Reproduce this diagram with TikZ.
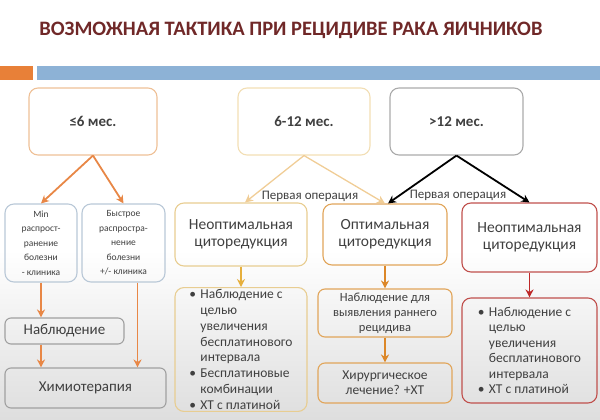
\documentclass[tikz,border=0pt]{standalone}
\usepackage{fontspec}
\setmainfont{Carlito}
\usetikzlibrary{arrows.meta}
\definecolor{txtgray}{RGB}{64,64,64}
\definecolor{titlered}{RGB}{112,40,40}
\definecolor{barorange}{RGB}{232,128,56}
\definecolor{barblue}{RGB}{141,178,214}
\definecolor{loedge}{RGB}{238,192,150}
\definecolor{loarrow}{RGB}{232,135,70}
\definecolor{midedge}{RGB}{242,222,180}
\definecolor{midline}{RGB}{240,205,150}
\definecolor{hiedge}{RGB}{170,170,170}
\definecolor{blueedge}{RGB}{185,200,215}
\definecolor{grayedge}{RGB}{160,160,160}
\definecolor{tanedge}{RGB}{232,205,145}
\definecolor{tanarrow}{RGB}{230,175,60}
\definecolor{optedge}{RGB}{225,165,90}
\definecolor{optarrow}{RGB}{220,135,40}
\definecolor{rededge}{RGB}{192,80,77}
\definecolor{redarrow}{RGB}{190,40,40}
\newcommand{\blt}{\makebox[11pt][l]{\textbullet}}
\newcommand{\ind}{\hspace*{11pt}}
\begin{document}
\begin{tikzpicture}[x=1pt,y=-1pt,font=\fontsize{15.5}{17}\selectfont,
  box/.style={draw,rounded corners=9pt,line width=1.1pt,align=center,text=txtgray,inner sep=2pt},
  period/.style={box,minimum height=67,font=\fontsize{15}{18}\selectfont\bfseries},
  arr/.style={-{Stealth[length=8pt,width=8pt]},line width=1.8pt}]
  \useasboundingbox (0,0) rectangle (600,420);
  \shade[top color=white,bottom color=black!13] (0,250) rectangle (600,420);
  \node[font=\fontsize{20.5}{24}\selectfont\bfseries,text=titlered] (title) at (291,30) {ВОЗМОЖНАЯ ТАКТИКА ПРИ РЕЦИДИВЕ РАКА ЯИЧНИКОВ};
  \fill[barorange] (0,66) rectangle (33,80);
  \fill[barblue] (37,66) rectangle (600,80);
  % intervals
  \node[period,draw=loedge,minimum width=128] (lo) at (93,121.5) {≤6 мес.};
  \node[period,draw=midedge,minimum width=132] (mid) at (304,121.5) {6-12 мес.};
  \node[period,draw=hiedge,minimum width=133] (hi) at (456.5,121.5) {>12 мес.};
  % left branch
  \node[box,draw=blueedge,minimum width=72,minimum height=78,font=\fontsize{9.5}{14.5}\selectfont] (minb) at (41,243) {Min\\распрост-\\ранение\\болезни\\- клиника};
  \node[box,draw=blueedge,minimum width=83,minimum height=78,font=\fontsize{9.5}{14.5}\selectfont] (fastb) at (123.5,243) {Быстрое\\распростра-\\нение\\болезни\\+/- клиника};
  \node[box,draw=grayedge,rounded corners=6pt,minimum width=119,minimum height=26,font=\fontsize{15}{18}\selectfont] (obs) at (64.5,331) {Наблюдение};
  \node[box,draw=grayedge,rounded corners=6pt,minimum width=161,minimum height=40,font=\fontsize{15}{18}\selectfont] (chemo) at (85.5,388) {Химиотерапия};
  \draw[arr,loarrow] (lo.south) -- (minb.north);
  \draw[arr,loarrow] (lo.south) -- (fastb.north);
  \draw[arr,loarrow] (minb.south) -- (minb.south |- obs.north);
  \draw[arr,loarrow] (minb.south |- obs.south) -- (minb.south |- chemo.north);
  \draw[arr,loarrow] ([xshift=14]fastb.south) -- ([xshift=14]fastb.south |- chemo.north);
  % middle and right branches
  \node[box,draw=tanedge,minimum width=132,minimum height=63] (nonl) at (241,234.5) {Неоптимальная\\циторедукция};
  \node[box,draw=optedge,minimum width=124,minimum height=61] (opt) at (385,234.5) {Оптимальная\\циторедукция};
  \node[box,draw=rededge,minimum width=135,minimum height=69] (nonr) at (529.5,237.5) {Неоптимальная\\циторедукция};
  \node[box,draw=tanedge,align=left,minimum width=132,minimum height=123,font=\fontsize{13.5}{15.8}\selectfont] (bl) at (241,349.5) {\blt Наблюдение с\\\ind целью\\\ind увеличения\\\ind бесплатинового\\\ind интервала\\\blt Бесплатиновые\\\ind комбинации\\\blt ХТ с платиной};
  \node[box,draw=optedge,rounded corners=7pt,minimum width=134,minimum height=48,font=\fontsize{12.5}{15}\selectfont] (watch) at (385,313) {Наблюдение для\\выявления раннего\\рецидива};
  \node[box,draw=optedge,rounded corners=7pt,minimum width=134,minimum height=40,font=\fontsize{13.5}{15}\selectfont] (surg) at (385,383) {Хирургическое\\лечение? +ХТ};
  \node[box,draw=rededge,align=left,minimum width=135,minimum height=105,font=\fontsize{13.5}{15.5}\selectfont] (br) at (529.5,350.5) {\blt Наблюдение с\\\ind целью\\\ind увеличения\\\ind бесплатинового\\\ind интервала\\\blt ХТ с платиной};
  \draw[arr,midline,line width=1.3pt] (mid.south) -- ([xshift=4]nonl.north);
  \draw[arr,midline,line width=1.3pt] (mid.south) -- (opt.north);
  \draw[arr,black] (hi.south) -- ([xshift=3]opt.north);
  \draw[arr,black] (hi.south) -- (nonr.north);
  \node[font=\fontsize{13}{15}\selectfont,text=txtgray] (op1) at (310,196) {Первая операция};
  \node[font=\fontsize{13}{15}\selectfont,text=txtgray] (op2) at (458,195) {Первая операция};
  \draw[arr,tanarrow] (nonl.south) -- (bl.north);
  \draw[arr,optarrow] (opt.south) -- (watch.north);
  \draw[arr,optarrow] (watch.south) -- (surg.north);
  \draw[arr,redarrow] (nonr.south) -- (br.north);
\end{tikzpicture}
\end{document}
